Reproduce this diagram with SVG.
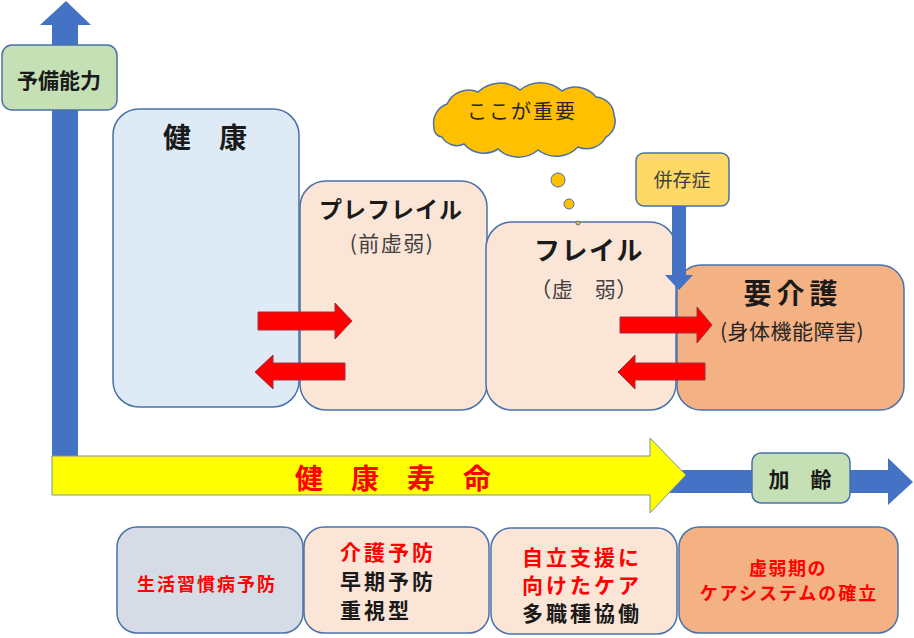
<svg xmlns="http://www.w3.org/2000/svg" width="914" height="638" viewBox="0 0 914 638">
<style>
text{font-family:"Noto Sans CJK JP","Noto Sans CJK SC",sans-serif;dominant-baseline:central;text-anchor:middle;}
.box{stroke:#4a71a8;stroke-width:1.5;}
.b{font-weight:bold;}
.red{fill:#ff0000;}
.dk{fill:#1a1a1a;}
.gr{fill:#404040;}
.left{text-anchor:start;}
.blue{fill:#4472c4;}
.rarrow{fill:#ff0000;stroke:#a03040;stroke-width:1;}
</style>
<rect width="914" height="638" fill="#ffffff"/>
<g id="connectors">
  <polygon id="axis-y" class="blue" points="52,462 52,25 40,25 66,1 91,25 78,25 78,462"/>
  <polygon id="axis-x" class="blue" points="60,470 888,470 888,458 913,482 888,505 888,493 60,493"/>
  <polygon id="healthy-life" points="52,456 650,456 650,438 686,475 650,513 650,495 52,495" fill="#ffff00" stroke="#7f8fa6" stroke-width="1"/>
</g>
<g id="yobi"><rect class="box" x="2" y="45" width="115" height="65" rx="10" fill="#c5e0b4"/><text class="b dk" x="59" y="79" font-size="21">予備能力</text></g>
<g id="kenko"><rect class="box" x="113" y="109" width="186" height="298" rx="26" fill="#deebf7"/><text class="b dk" x="205" y="136" font-size="28">健　康</text></g>
<g id="prefrail"><rect class="box" x="300" y="181" width="187" height="229" rx="26" fill="#fbe5d6"/><text class="b dk" x="391" y="208" font-size="23" letter-spacing="1">プレフレイル</text><text class="gr" x="392" y="242" font-size="21" letter-spacing="1.5">(前虚弱)</text></g>
<g id="frail"><rect class="box" x="486" y="222" width="190" height="188" rx="26" fill="#fbe5d6"/><text class="b dk" x="589" y="248" font-size="26" letter-spacing="1.5">フレイル</text><text class="gr" x="584" y="288" font-size="21" letter-spacing="0.5">（虚　弱）</text></g>
<g id="kaigo"><rect class="box" x="677" y="265" width="227" height="145" rx="24" fill="#f4b183"/><text class="b dk" x="793" y="292" font-size="28" letter-spacing="5">要介護</text><text fill="#262626" x="792" y="330" font-size="21" letter-spacing="0.5">(身体機能障害)</text></g>
<g id="heizon"><rect class="box" x="636" y="153" width="93" height="53" rx="8" fill="#ffd966"/><text class="gr" x="682" y="178" font-size="19">併存症</text></g>
<g id="cloud">
  <path d="M434,127 A20,20 0 0 1 447,104 A24,24 0 0 1 478,92 A32,32 0 0 1 520,90 A32,32 0 0 1 562,91 A26,26 0 0 1 596,97 A19,19 0 0 1 614,115 A18,18 0 0 1 606,137 A22,22 0 0 1 578,147 A30,30 0 0 1 538,150 A30,30 0 0 1 498,149 A26,26 0 0 1 464,144 A17,17 0 0 1 442,137 A9,9 0 0 1 434,127 Z" fill="#ffc000" stroke="#4a71a8" stroke-width="1.5"/>
  <text fill="#262626" x="522" y="110" font-size="20" letter-spacing="2">ここが重要</text>
  <circle cx="558" cy="180" r="7" fill="#ffc000" stroke="#4a71a8" stroke-width="1"/>
  <circle cx="569" cy="204" r="5" fill="#ffc000" stroke="#4a71a8" stroke-width="1"/>
  <circle cx="578" cy="223" r="2" fill="#ffc000" stroke="#4a71a8" stroke-width="1"/>
</g>
<g id="arrows">
  <polygon class="blue" points="672,206 686,206 686,275 693,275 679,290 665,275 672,275"/>
  <polygon class="rarrow" points="258,312 335,312 335,303 352,321 335,339 335,330 258,330"/>
  <polygon class="rarrow" points="345,363 273,363 273,355 255,372 273,389 273,380 345,380"/>
  <polygon class="rarrow" points="620,317 697,317 697,307 712,325 697,343 697,333 620,333"/>
  <polygon class="rarrow" points="705,363 635,363 635,355 618,372 635,389 635,380 705,380"/>
</g>
<g id="kenko-jumyo"><text class="b red" x="393" y="477" font-size="28">健　康　寿　命</text></g>
<g id="karei"><rect class="box" x="752" y="453" width="98" height="50" rx="9" fill="#c5e0b4"/><text class="b dk" x="800" y="478" font-size="21">加　齢</text></g>
<g id="b1"><rect class="box" x="117" y="527" width="186" height="106" rx="20" fill="#d6dce5"/><text class="b red" x="207" y="583" font-size="18" letter-spacing="2">生活習慣病予防</text></g>
<g id="b2"><rect class="box" x="304" y="527" width="185" height="106" rx="20" fill="#fbe5d6"/>
  <text class="b red left" x="340" y="551" font-size="21" letter-spacing="3">介護予防</text>
  <text class="b dk left" x="340" y="580" font-size="21" letter-spacing="3">早期予防</text>
  <text class="b dk left" x="340" y="609" font-size="21" letter-spacing="3">重視型</text></g>
<g id="b3"><rect class="box" x="491" y="528" width="186" height="106" rx="20" fill="#fbe5d6"/>
  <text class="b red left" x="522" y="556" font-size="21" letter-spacing="3">自立支援に</text>
  <text class="b red left" x="522" y="584" font-size="21" letter-spacing="3">向けたケア</text>
  <text class="b dk left" x="522" y="612" font-size="21" letter-spacing="3">多職種協働</text></g>
<g id="b4"><rect class="box" x="679" y="527" width="219" height="106" rx="20" fill="#f4b183"/>
  <text class="b red" x="788" y="567" font-size="18" letter-spacing="1.5">虚弱期の</text>
  <text class="b red" x="789" y="592" font-size="18" letter-spacing="2">ケアシステムの確立</text></g>
</svg>
